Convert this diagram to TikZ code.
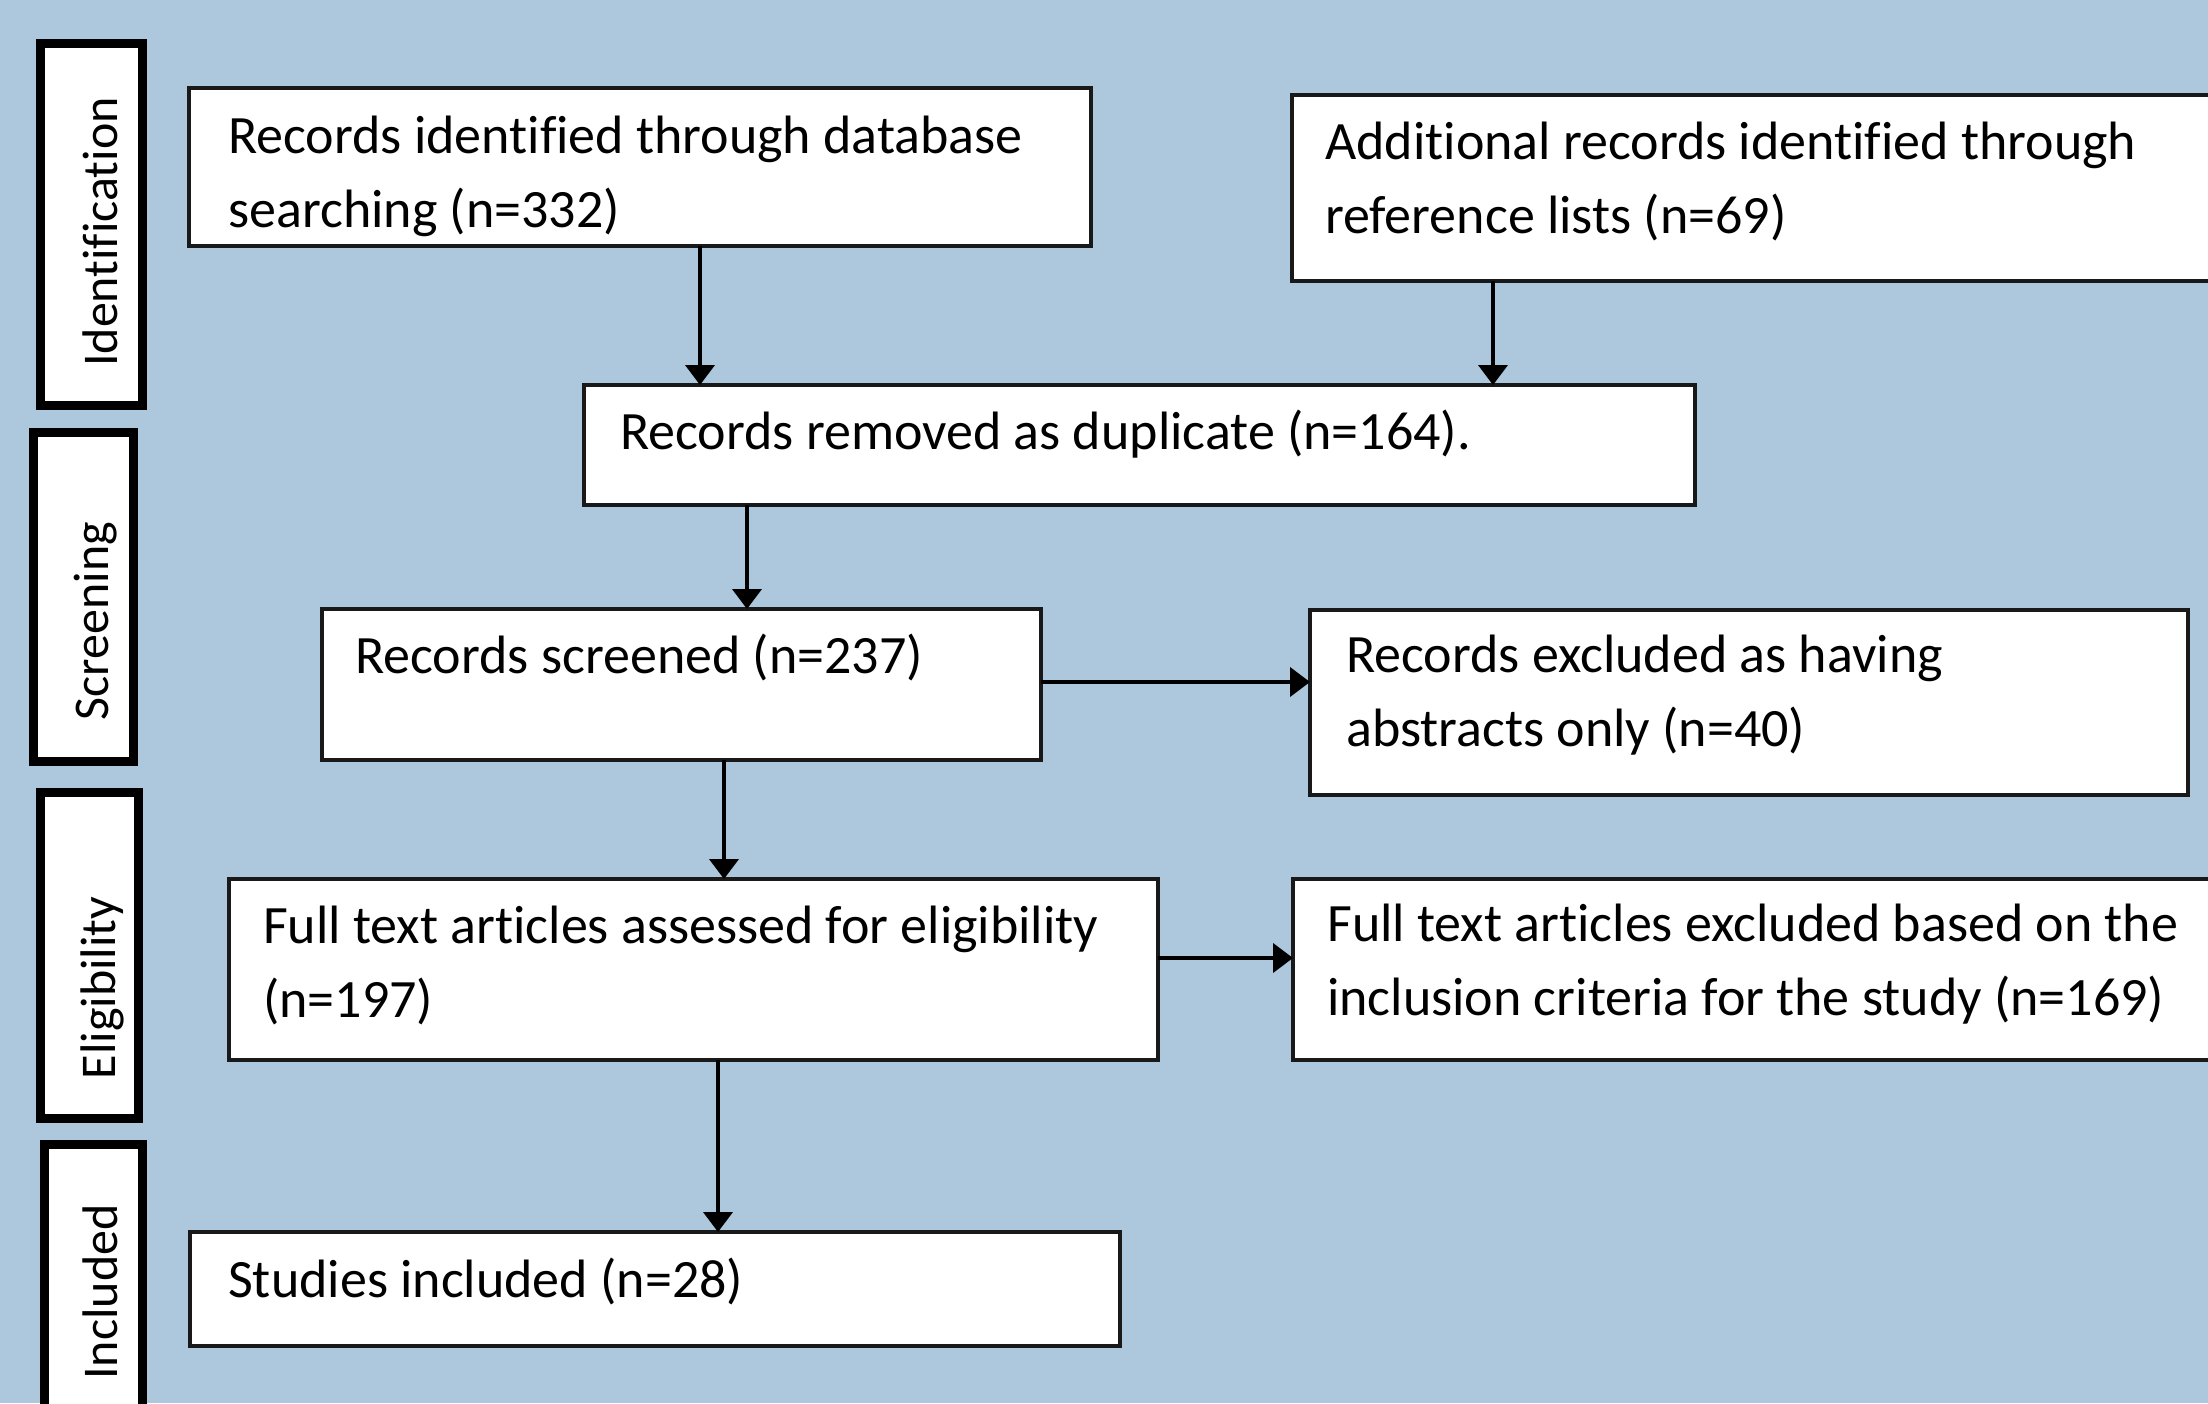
\documentclass[tikz,border=0pt]{standalone}
\usepackage{fontspec}
\setmainfont[Ligatures=NoCommon]{Carlito}
\usetikzlibrary{arrows.meta,calc}
\definecolor{bgblue}{RGB}{173,199,220}
\newcommand\mainfs{\fontsize{54}{74}\selectfont}
\newcommand\stagefs{\fontsize{50}{60}\selectfont}
\begin{document}
\begin{tikzpicture}[x=1pt,y=-1pt,
  box/.style={draw=black!90, line width=4pt, fill=white, anchor=north west, inner sep=0pt, outer sep=0pt},
  stagebox/.style={draw=black, line width=9pt, fill=white, anchor=north west, inner sep=0pt, outer sep=0pt},
  txt/.style={anchor=north west, inner sep=0pt, align=left, font=\mainfs},
  stagetxt/.style={rotate=90, anchor=base, inner sep=0pt, font=\stagefs},
  arr/.style={line width=4pt, -{Triangle[width=29pt,length=20pt]}}]
\useasboundingbox (0,0) rectangle (2208,1403);
\clip (0,0) rectangle (2208,1403);
\fill[bgblue] (0,0) rectangle (2208,1403);

% stage boxes
\node[stagebox, minimum width=102pt, minimum height=362pt] (S1) at (40,43) {};
\node[stagebox, minimum width=100pt, minimum height=329pt] (S2) at (33,432) {};
\node[stagebox, minimum width=98pt, minimum height=326pt] (S3) at (40,792) {};
\node[stagebox, minimum width=98pt, minimum height=280pt] (S4) at (44,1144) {};
\node[stagetxt] (S1t) at (117,232) {Identification};
\node[stagetxt] (S2t) at (108,621) {Screening};
\node[stagetxt] (S3t) at (115,988) {Eligibility};
\node[stagetxt] (S4t) at (117,1292) {Included};

% flow boxes
\node[box, minimum width=902pt, minimum height=158pt] (A) at (189,88) {};
\node[box, minimum width=928pt, minimum height=186pt] (B) at (1292,95) {};
\node[box, minimum width=1111pt, minimum height=120pt] (C) at (584,385) {};
\node[box, minimum width=719pt, minimum height=151pt] (D) at (322,609) {};
\node[box, minimum width=878pt, minimum height=185pt] (E) at (1310,610) {};
\node[box, minimum width=929pt, minimum height=181pt] (F) at (229,879) {};
\node[box, minimum width=927pt, minimum height=181pt] (G) at (1293,879) {};
\node[box, minimum width=930pt, minimum height=114pt] (H) at (190,1232) {};

\node[txt] (At) at ($(A.north west)+(39,65-51.8)$) {\strut Records identified through database\\searching (n=332)};
\node[txt] (Bt) at ($(B.north west)+(33,64-51.8)$) {\strut Additional records identified through\\reference lists (n=69)};
\node[txt] (Ct) at ($(C.north west)+(36,64-51.8)$) {\strut Records removed as duplicate (n=164).};
\node[txt] (Dt) at ($(D.north west)+(33,64-51.8)$) {\strut Records screened (n=237)};
\node[txt] (Et) at ($(E.north west)+(36,62-51.8)$) {\strut Records excluded as having\\abstracts only (n=40)};
\node[txt] (Ft) at ($(F.north west)+(34,64-51.8)$) {\strut Full text articles assessed for eligibility\\(n=197)};
\node[txt] (Gt) at ($(G.north west)+(34,62-51.8)$) {\strut Full text articles excluded based on the\\inclusion criteria for the study (n=169)};
\node[txt] (Ht) at ($(H.north west)+(38,65-51.8)$) {\strut Studies included (n=28)};

\draw[arr] (A.south -| 700,0) -- (C.north -| 700,0);
\draw[arr] (B.south -| 1493,0) -- (C.north -| 1493,0);
\draw[arr] (C.south -| 747,0) -- (D.north -| 747,0);
\draw[arr] (D.east |- 0,682) -- (E.west |- 0,682);
\draw[arr] (D.south -| 724,0) -- (F.north -| 724,0);
\draw[arr] (F.east |- 0,958) -- (G.west |- 0,958);
\draw[arr] (F.south -| 718,0) -- (H.north -| 718,0);
\end{tikzpicture}
\end{document}
